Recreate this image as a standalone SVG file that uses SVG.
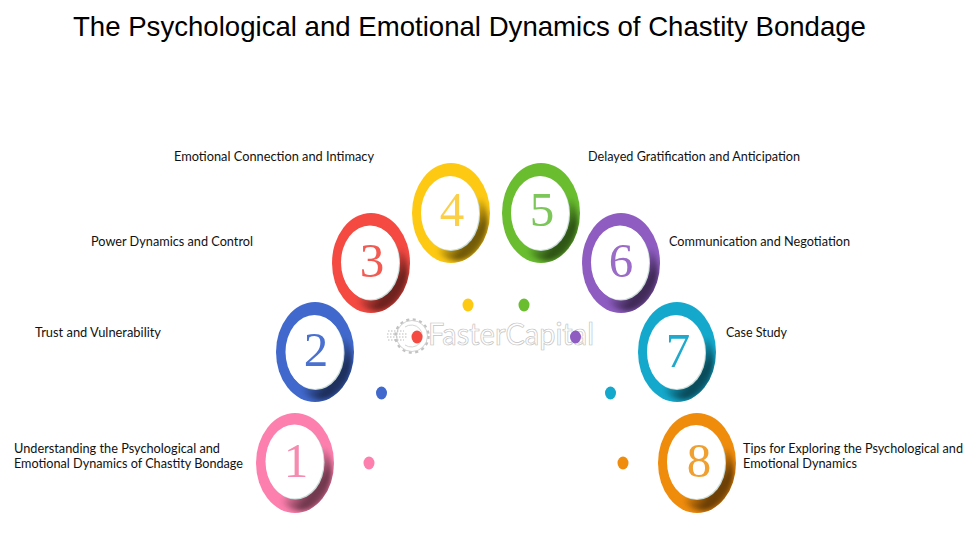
<svg xmlns="http://www.w3.org/2000/svg" width="980" height="550" viewBox="0 0 980 550">
<defs>
<filter id="soft" x="-30%" y="-30%" width="160%" height="160%"><feGaussianBlur stdDeviation="2.500"/></filter>
<linearGradient id="fall" x1="0.1" y1="0.1" x2="0.9" y2="0.9">
<stop offset="0.52" stop-color="#000" stop-opacity="0"/>
<stop offset="0.8" stop-color="#000" stop-opacity="0.58"/>
<stop offset="1" stop-color="#000" stop-opacity="0.4"/>
</linearGradient>
<clipPath id="c1"><ellipse cx="295" cy="463" rx="39" ry="50"/></clipPath>
<clipPath id="c2"><ellipse cx="315" cy="352" rx="39" ry="50"/></clipPath>
<clipPath id="c3"><ellipse cx="371" cy="263" rx="39" ry="50"/></clipPath>
<clipPath id="c4"><ellipse cx="451" cy="213" rx="39" ry="50"/></clipPath>
<clipPath id="c5"><ellipse cx="541" cy="213" rx="39" ry="50"/></clipPath>
<clipPath id="c6"><ellipse cx="621" cy="263" rx="39" ry="50"/></clipPath>
<clipPath id="c7"><ellipse cx="677" cy="352" rx="39" ry="50"/></clipPath>
<clipPath id="c8"><ellipse cx="697" cy="463" rx="39" ry="50"/></clipPath>
</defs>
<style>
text{font-family:"Liberation Sans",Arial,sans-serif}
.title{font-size:27.6px;fill:#000}
.lb{font-family:"Lato","Open Sans",sans-serif;font-size:12.4px;fill:#111}
.n{font-family:"Liberation Serif","Times New Roman",serif;font-size:49px;text-anchor:middle}
.face{fill:#fff}
.edge{fill:#c9dcd8}
.sh{fill:url(#fall);filter:url(#soft)}
.wm{font-family:"Lato","Liberation Sans",sans-serif;font-size:31px;fill:#fff;stroke:#c2c2c2;stroke-width:.7}
.gear{fill:none;stroke:#c2c2c2;stroke-width:.7}
</style>
<rect width="980" height="550" fill="#fff"/>
<text class="title" x="73" y="36">The Psychological and Emotional Dynamics of Chastity Bondage</text>
<g id="watermark">
<circle cx="412" cy="336" r="16.500" fill="none" stroke="#c2c2c2" stroke-width="2.500" stroke-dasharray="3 3.500"/>
<circle cx="412" cy="336" r="15.500" fill="#fff" stroke="#c2c2c2" stroke-width=".7"/>
<path class="gear" d="M405 327A11 11 0 1 1 405 345"/>
<path d="M388 331H404M387 334H407M387 337H407M388 340H404" fill="none" stroke="#bbb" stroke-width="1.200" stroke-dasharray="1.500 1.500"/>
<text class="wm" x="428" y="345" textLength="166" lengthAdjust="spacingAndGlyphs">FasterCapital</text>
</g>
<g id="connectors">
<ellipse cx="369" cy="463" rx="5.500" ry="6.500" fill="#fd7fad"/>
<ellipse cx="381.500" cy="393" rx="5.500" ry="6.500" fill="#4169cd"/>
<ellipse cx="417" cy="337" rx="5.500" ry="6.500" fill="#f44a42"/>
<ellipse cx="468" cy="305" rx="5.500" ry="6.500" fill="#fdc913"/>
<ellipse cx="524" cy="305" rx="5.500" ry="6.500" fill="#69bd2f"/>
<ellipse cx="575.500" cy="337" rx="5.500" ry="6.500" fill="#8f5dc2"/>
<ellipse cx="610.500" cy="393" rx="5.500" ry="6.500" fill="#14a9cc"/>
<ellipse cx="623" cy="463" rx="5.500" ry="6.500" fill="#ef8c0c"/>
</g>
<g id="node1"><ellipse cx="295" cy="463" rx="39" ry="50" fill="#fd7fad"/><g clip-path="url(#c1)"><ellipse class="sh" cx="301" cy="472" rx="31" ry="39"/></g><ellipse class="edge" cx="295.500" cy="462.500" rx="29" ry="37"/><ellipse class="face" cx="294.500" cy="461.500" rx="29" ry="37"/><text class="n" x="296" y="477" fill="#f58bb0">1</text></g>
<g id="node2"><ellipse cx="315" cy="352" rx="39" ry="50" fill="#4169cd"/><g clip-path="url(#c2)"><ellipse class="sh" cx="321" cy="361" rx="31" ry="39"/></g><ellipse class="edge" cx="315.500" cy="353" rx="29" ry="37"/><ellipse class="face" cx="314.500" cy="352" rx="29" ry="37"/><text class="n" x="316" y="366" fill="#4a70d0">2</text></g>
<g id="node3"><ellipse cx="371" cy="263" rx="39" ry="50" fill="#f44a42"/><g clip-path="url(#c3)"><ellipse class="sh" cx="377" cy="272" rx="31" ry="39"/></g><ellipse class="edge" cx="371" cy="263.500" rx="29" ry="37"/><ellipse class="face" cx="370" cy="262.500" rx="29" ry="37"/><text class="n" x="372" y="277" fill="#f25a52">3</text></g>
<g id="node4"><ellipse cx="451" cy="213" rx="39" ry="50" fill="#fdc913"/><g clip-path="url(#c4)"><ellipse class="sh" cx="457" cy="222" rx="31" ry="39"/></g><ellipse class="edge" cx="451" cy="214" rx="29" ry="37"/><ellipse class="face" cx="450" cy="213" rx="29" ry="37"/><text class="n" x="452" y="226" fill="#fbd048">4</text></g>
<g id="node5"><ellipse cx="541" cy="213" rx="39" ry="50" fill="#69bd2f"/><g clip-path="url(#c5)"><ellipse class="sh" cx="547" cy="222" rx="31" ry="39"/></g><ellipse class="edge" cx="541" cy="214" rx="29" ry="37"/><ellipse class="face" cx="540" cy="213" rx="29" ry="37"/><text class="n" x="542" y="226" fill="#7cc65a">5</text></g>
<g id="node6"><ellipse cx="621" cy="263" rx="39" ry="50" fill="#8f5dc2"/><g clip-path="url(#c6)"><ellipse class="sh" cx="627" cy="272" rx="31" ry="39"/></g><ellipse class="edge" cx="621" cy="263.500" rx="29" ry="37"/><ellipse class="face" cx="620" cy="262.500" rx="29" ry="37"/><text class="n" x="621" y="277" fill="#9a6cc8">6</text></g>
<g id="node7"><ellipse cx="677" cy="352" rx="39" ry="50" fill="#14a9cc"/><g clip-path="url(#c7)"><ellipse class="sh" cx="683" cy="361" rx="31" ry="39"/></g><ellipse class="edge" cx="677" cy="353" rx="29" ry="37"/><ellipse class="face" cx="676" cy="352" rx="29" ry="37"/><text class="n" x="678" y="367" fill="#1fa9cc">7</text></g>
<g id="node8"><ellipse cx="697" cy="463" rx="39" ry="50" fill="#ef8c0c"/><g clip-path="url(#c8)"><ellipse class="sh" cx="703" cy="472" rx="31" ry="39"/></g><ellipse class="edge" cx="697" cy="463" rx="29" ry="37"/><ellipse class="face" cx="696" cy="462" rx="29" ry="37"/><text class="n" x="699" y="477" fill="#f0a030">8</text></g>
<g id="labels">
<text class="lb" x="174" y="161" textLength="200" lengthAdjust="spacingAndGlyphs">Emotional Connection and Intimacy</text>
<text class="lb" x="91" y="246" textLength="162" lengthAdjust="spacingAndGlyphs">Power Dynamics and Control</text>
<text class="lb" x="35" y="337" textLength="126" lengthAdjust="spacingAndGlyphs">Trust and Vulnerability</text>
<text class="lb" x="14" y="453" textLength="206" lengthAdjust="spacingAndGlyphs">Understanding the Psychological and</text>
<text class="lb" x="14" y="468" textLength="229" lengthAdjust="spacingAndGlyphs">Emotional Dynamics of Chastity Bondage</text>
<text class="lb" x="588" y="161" textLength="212" lengthAdjust="spacingAndGlyphs">Delayed Gratification and Anticipation</text>
<text class="lb" x="669" y="246" textLength="181" lengthAdjust="spacingAndGlyphs">Communication and Negotiation</text>
<text class="lb" x="726" y="337" textLength="61" lengthAdjust="spacingAndGlyphs">Case Study</text>
<text class="lb" x="743" y="453" textLength="220" lengthAdjust="spacingAndGlyphs">Tips for Exploring the Psychological and</text>
<text class="lb" x="743" y="468" textLength="114" lengthAdjust="spacingAndGlyphs">Emotional Dynamics</text>
</g>
</svg>
